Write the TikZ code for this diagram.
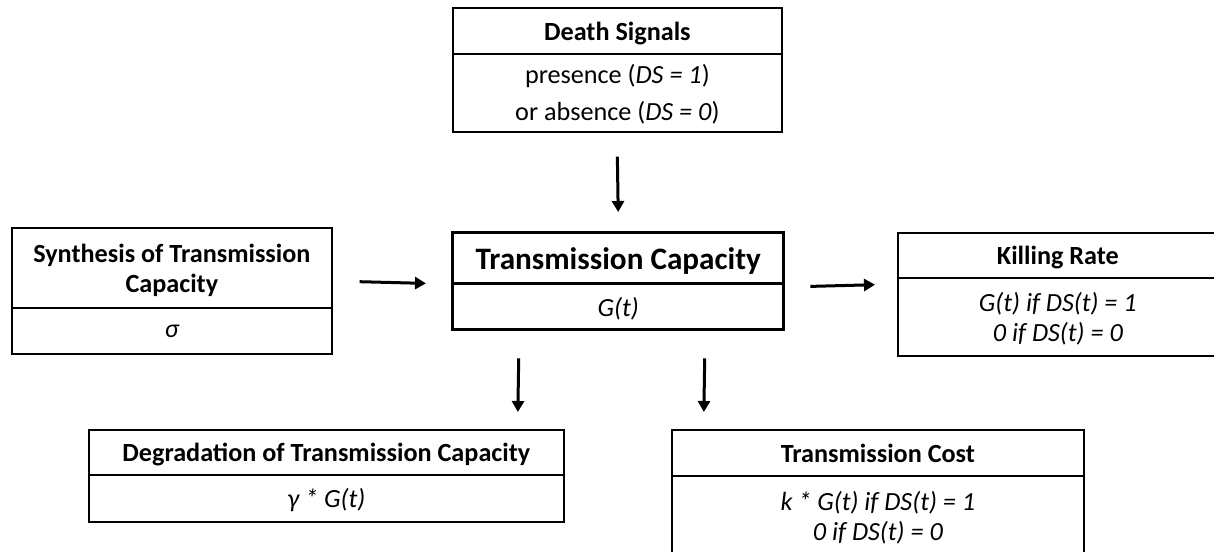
\documentclass[tikz,border=0pt]{standalone}
\usepackage{fontspec}
\setmainfont{Carlito}
\usetikzlibrary{calc,arrows.meta}
\tikzset{
  boxpart/.style={draw, line width=1.7pt, inner sep=0pt, anchor=north west, align=center, text depth=-4pt},
  thickpart/.style={draw, line width=3.4pt, inner sep=0pt, anchor=north west, align=center, text depth=-4pt},
  ttl/.style={font=\bfseries\fontsize{26.2}{30}\selectfont},
  bigttl/.style={font=\bfseries\fontsize{31.2}{36}\selectfont},
  bdy/.style={font=\itshape\fontsize{26.2}{30}\selectfont},
  bdyup/.style={font=\fontsize{26.2}{37}\selectfont},
  arr/.style={line width=3pt, -{Triangle[width=12pt,length=11pt]}},
}
\begin{document}
\begin{tikzpicture}[x=1pt,y=-1pt]
\useasboundingbox (0,0) rectangle (1214,551);
\clip (0,0) rectangle (1214,551);
% Death Signals
\node[boxpart, ttl, minimum width=329pt, minimum height=46pt] (dsT) at (452,7) {Death Signals};
\node[boxpart, bdyup, minimum width=329pt, minimum height=78pt] (dsB) at (452,53) {presence (\textit{DS = 1})\\or absence (\textit{DS = 0})};
% Synthesis
\node[boxpart, ttl, minimum width=320pt, minimum height=80pt] (synT) at (11,227) {Synthesis of Transmission\\Capacity};
\node[boxpart, bdy, minimum width=320pt, minimum height=46pt] (synB) at (11,307) {σ};
% Transmission Capacity
\node[thickpart, bigttl, minimum width=331pt, minimum height=51pt] (tcT) at (451,231) {Transmission Capacity};
\node[thickpart, bdy, minimum width=331pt, minimum height=46pt] (tcB) at (451,282) {G(t)};
% Killing Rate
\node[boxpart, ttl, minimum width=320pt, minimum height=45pt] (krT) at (897,232) {Killing Rate};
\node[boxpart, bdy, minimum width=320pt, minimum height=78pt] (krB) at (897,277) {G(t) if DS(t) = 1\\0 if DS(t) = 0};
% Degradation
\node[boxpart, ttl, minimum width=475pt, minimum height=45pt] (degT) at (88,429) {Degradation of Transmission Capacity};
\node[boxpart, bdy, minimum width=475pt, minimum height=47pt] (degB) at (88,474) {γ * G(t)};
% Transmission Cost
\node[boxpart, ttl, minimum width=412pt, minimum height=46pt] (costT) at (671,429) {Transmission Cost};
\node[boxpart, bdy, minimum width=412pt, minimum height=80pt] (costB) at (671,475) {k * G(t) if DS(t) = 1\\0 if DS(t) = 0};
\draw[boxpart] (costB.south west) -- ($(costB.south west)+(0,60)$);
\draw[boxpart] (costB.south east) -- ($(costB.south east)+(0,60)$);
% Arrows
\draw[arr] ($(dsB.south)+(0,24)$) -- ($(tcT.north)+(0,-19)$);
\draw[arr] ($(synT.south east)+(27,-27)$) -- ($(tcT.south west)+(-25,-2)$);
\draw[arr] ($(tcT.south east)+(25,1)$) -- ($(krT.south west)+(-22,6)$);
\draw[arr] ($(tcB.south)+(-99.5,27)$) -- ($(degT.north)+(191.5,-17)$);
\draw[arr] ($(tcB.south)+(86.5,27)$) -- ($(costT.north)+(-174,-17)$);
\end{tikzpicture}
\end{document}
